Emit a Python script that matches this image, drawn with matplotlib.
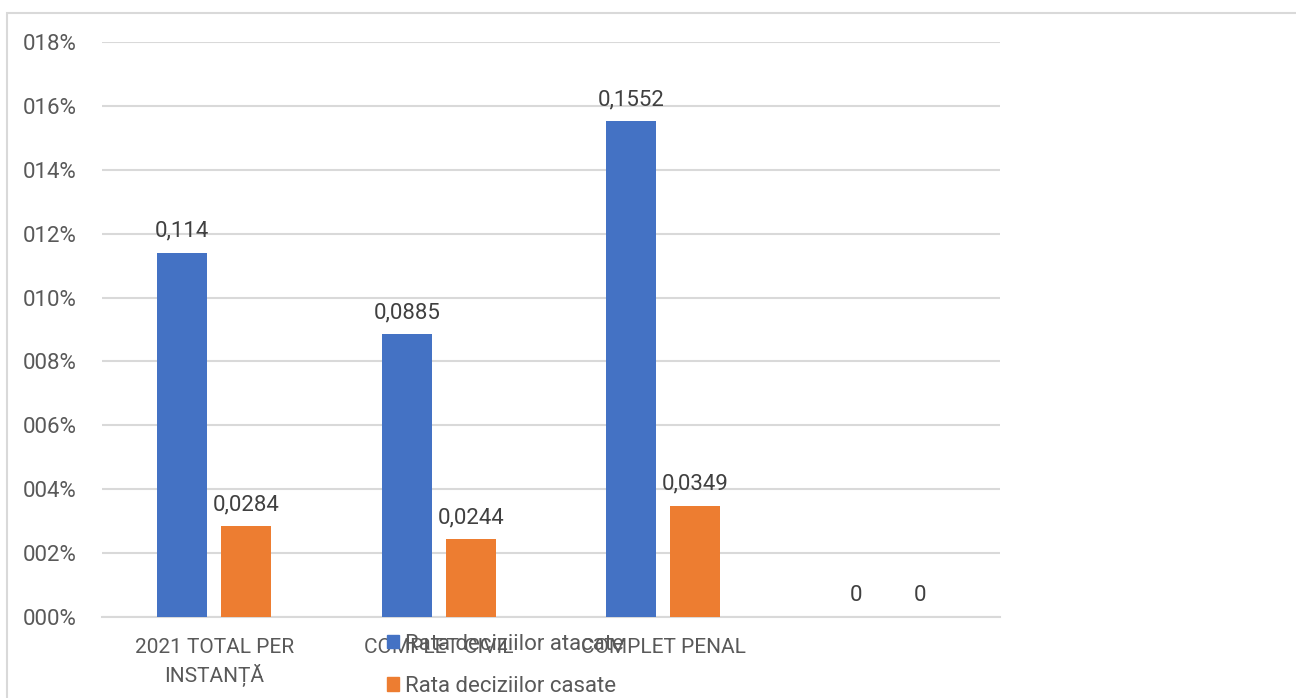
import matplotlib
matplotlib.use("Agg")
import matplotlib.pyplot as plt
from matplotlib.patches import Patch, Rectangle
import numpy as np

categories = ["2021 TOTAL PER\nINSTANȚĂ", "COMPLET CIVIL", "COMPLET PENAL", ""]
atacate = [0.114, 0.0885, 0.1552, 0]
casate = [0.0284, 0.0244, 0.0349, 0]
atacate_labels = ["0,114", "0,0885", "0,1552", "0"]
casate_labels = ["0,0284", "0,0244", "0,0349", "0"]
series_names = ["Rata deciziilor atacate", "Rata deciziilor casate"]
yticks = [0, 0.02, 0.04, 0.06, 0.08, 0.10, 0.12, 0.14, 0.16, 0.18]
ytick_labels = ["000%", "002%", "004%", "006%", "008%", "010%", "012%", "014%", "016%", "018%"]

plt.rcParams['font.family'] = ['Roboto', 'DejaVu Sans']
TXT = "#595959"
W, H = 1296, 698
fig = plt.figure(figsize=(W / 100, H / 100), dpi=100)

# outer chart border
fig.patches.append(Rectangle((7 / W, -0.05), 1.2, (H - 13) / H + 0.05, transform=fig.transFigure,
                             fill=False, edgecolor="#d9d9d9", linewidth=1.5))

ax = fig.add_axes([102 / W, (H - 617) / H, 898 / W, (617 - 42) / H])
x = np.arange(len(categories))
bw = 0.223
off = 0.142
b1 = ax.bar(x - off, atacate, bw, color="#4472C4", zorder=3)
b2 = ax.bar(x + off, casate, bw, color="#ED7D31", zorder=3)

for rects, labs in ((b1, atacate_labels), (b2, casate_labels)):
    for r, lab in zip(rects, labs):
        ax.annotate(lab, (r.get_x() + r.get_width() / 2, r.get_height()),
                    xytext=(0, 8), textcoords="offset points", ha="center", va="bottom",
                    fontsize=16, color="#404040")

ax.set_xlim(-0.5, len(categories) - 0.5)
ax.set_ylim(0, 0.18)
ax.set_yticks(yticks)
ax.set_yticklabels(ytick_labels, fontsize=16, color=TXT)
ax.set_xticks(x)
ax.set_xticklabels(categories, fontsize=15, color=TXT, linespacing=1.4)
ax.tick_params(axis="both", length=0)
ax.tick_params(axis="y", pad=18)
ax.tick_params(axis="x", pad=15)
ax.grid(axis="y", color="#d9d9d9", linewidth=1.5, zorder=0)
for s in ["top", "right", "left"]:
    ax.spines[s].set_visible(False)
ax.spines["bottom"].set_color("#d9d9d9")
ax.spines["bottom"].set_linewidth(1.5)

handles = [Patch(color="#4472C4"), Patch(color="#ED7D31")]
fig.legend(handles, series_names, loc="upper left", bbox_to_anchor=(371 / W, 1 - 618 / H),
           frameon=False, fontsize=16, labelcolor=TXT, handlelength=0.55, handleheight=0.55,
           handletextpad=0.3, labelspacing=0.95, borderpad=0.2)

fig.savefig("out.png", dpi=100)
